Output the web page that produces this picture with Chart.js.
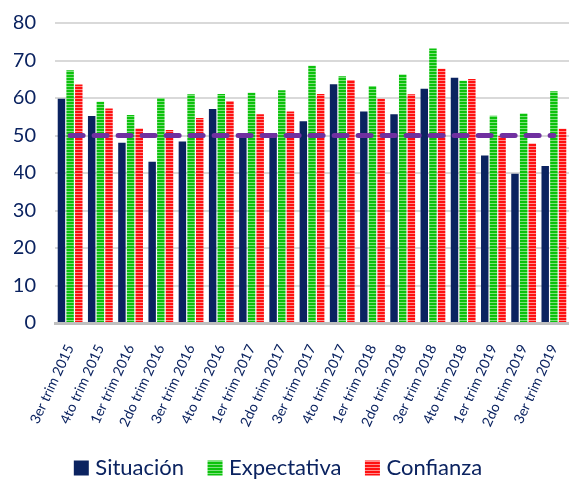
<!DOCTYPE html>
<html>
<head>
<meta charset="utf-8">
<script src="https://cdn.jsdelivr.net/npm/chart.js@4/dist/chart.umd.min.js"></script>
<style>
  html, body { margin: 0; padding: 0; background: #fff; }
  #wrap { width: 569px; height: 479px; }
</style>
</head>
<body>
<div id="wrap"><canvas id="grafico"></canvas></div>
<script>
// datos
const trimestres = ['3er trim 2015', '4to trim 2015', '1er trim 2016', '2do trim 2016', '3er trim 2016', '4to trim 2016',
    '1er trim 2017', '2do trim 2017', '3er trim 2017', '4to trim 2017', '1er trim 2018', '2do trim 2018',
    '3er trim 2018', '4to trim 2018', '1er trim 2019', '2do trim 2019', '3er trim 2019'];
const situacion   = [59.8, 55.2, 48.1, 43.0, 48.4, 57.1, 49.5, 50.7, 53.8, 63.7, 56.4, 55.7, 62.5, 65.4, 44.7, 39.8, 41.9];
const expectativa = [67.4, 59.0, 55.5, 60.0, 61.0, 61.1, 61.4, 62.1, 68.6, 65.8, 63.2, 66.3, 73.2, 64.6, 55.3, 55.9, 61.8];
const confianza   = [63.6, 57.2, 51.9, 51.5, 54.7, 59.2, 55.7, 56.4, 61.1, 64.8, 59.8, 61.0, 67.8, 65.1, 49.9, 47.9, 51.8];
const umbral      = trimestres.map(() => 50);
const ticksY = [0, 10, 20, 30, 40, 50, 60, 70, 80];

const azul = '#0B2360';

// rayas horizontales para las barras
function rayas(base, claro) {
    const c = document.createElement('canvas');
    c.width = 4; c.height = 3;
    const g = c.getContext('2d');
    g.fillStyle = base; g.fillRect(0, 0, 4, 3);
    g.fillStyle = claro; g.fillRect(0, 2, 4, 1);
    return g.createPattern(c, 'repeat');
}
const ctx = document.getElementById('grafico').getContext('2d');
const verde = rayas('#0CC20C', '#7CE07C');
const rojo = rayas('#FF1010', '#FF8C8C');

new Chart(ctx, {
    type: 'bar',
    data: {
        labels: trimestres,
        datasets: [
            { type: 'line', label: 'Umbral', data: umbral, borderColor: '#7030A0', borderWidth: 5,
              borderDash: [13, 11], borderCapStyle: 'round', pointRadius: 0, fill: false, order: 0 },
            { label: 'Situación', data: situacion, backgroundColor: azul, pointStyle: 'rect', order: 1 },
            { label: 'Expectativa', data: expectativa, backgroundColor: verde, pointStyle: 'rect', order: 1 },
            { label: 'Confianza', data: confianza, backgroundColor: rojo, pointStyle: 'rect', order: 1 }
        ]
    },
    options: {
        responsive: true,
        maintainAspectRatio: false,
        animation: false,
        datasets: { bar: { categoryPercentage: 0.86, barPercentage: 0.86 } },
        layout: { padding: { top: 23, left: 14, right: 0, bottom: -10 } },
        scales: {
            x: {
                grid: { display: false },
                border: { color: '#BFBFBF', width: 3 },
                ticks: { color: azul, font: { family: 'Lato', size: 14 }, minRotation: 65, maxRotation: 65, padding: 11 },
                afterFit: s => { s.paddingLeft = 0; s.paddingRight = 0; s.height = 106; }
            },
            y: {
                min: 0, max: 80,
                afterBuildTicks: axis => { axis.ticks = ticksY.map(v => ({ value: v })); },
                grid: { color: '#D9D9D9', lineWidth: 2, drawTicks: false },
                border: { display: false },
                ticks: { color: azul, font: { family: 'Lato', size: 20 }, padding: 19 },
                afterFit: s => { s.width = 41; s.paddingTop = 0; s.paddingBottom = 0; }
            }
        },
        plugins: {
            legend: {
                position: 'bottom',
                labels: {
                    // espacios al final para correr la leyenda un poco a la izquierda
                    generateLabels: chart => {
                        const items = Chart.defaults.plugins.legend.labels.generateLabels(chart);
                        items[items.length - 1].text += '    ';
                        return items;
                    },
                    filter: item => item.text !== 'Umbral',
                    color: azul, font: { family: 'Lato', size: 22 },
                    usePointStyle: true, boxWidth: 6, boxHeight: 15, padding: 28
                }
            },
            tooltip: { enabled: false }
        }
    }
});
</script>
</body>
</html>
